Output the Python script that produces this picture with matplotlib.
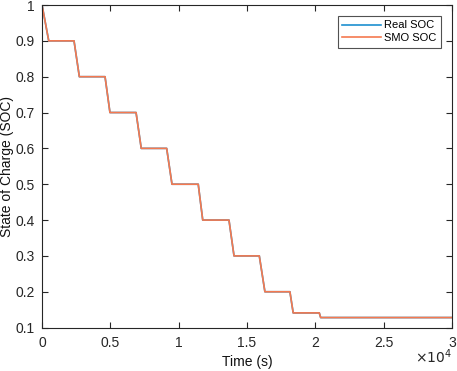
import matplotlib
matplotlib.use("Agg")
import matplotlib.pyplot as plt

# breakpoints of the SOC staircase (time in s)
time_s = [0, 490, 2340, 2730, 4610, 4970, 6880, 7260, 9120, 9510, 11430, 11760,
          13680, 14050, 15900, 16310, 18140, 18380, 20290, 20390, 30000]
real_soc = [1.0, 0.9, 0.9, 0.8, 0.8, 0.7, 0.7, 0.6, 0.6, 0.5, 0.5, 0.4,
            0.4, 0.3, 0.3, 0.2, 0.2, 0.141, 0.141, 0.128, 0.128]
smo_soc = [1.0, 0.9, 0.9, 0.8, 0.8, 0.7, 0.7, 0.6, 0.6, 0.5, 0.5, 0.4,
           0.4, 0.3, 0.3, 0.2, 0.2, 0.141, 0.141, 0.128, 0.128]

xticks = [0, 5000, 10000, 15000, 20000, 25000, 30000]
xlabels = ["0", "0.5", "1", "1.5", "2", "2.5", "3"]
yticks = [0.1, 0.2, 0.3, 0.4, 0.5, 0.6, 0.7, 0.8, 0.9, 1.0]
ylabels = ["0.1", "0.2", "0.3", "0.4", "0.5", "0.6", "0.7", "0.8", "0.9", "1"]

plt.rcParams["font.family"] = ["Liberation Sans", "DejaVu Sans"]
axcol = "#262626"

fig = plt.figure(figsize=(4.57, 3.71), dpi=100)
ax = fig.add_axes([0.092, 0.117, 0.897, 0.8695])

ax.plot(time_s, real_soc, color="#1E90D0", lw=1.2, label="Real SOC")
ax.plot(time_s, smo_soc, color="#F5794F", lw=1.2, label="SMO SOC")

ax.set_xlim(0, 30000)
ax.set_ylim(0.1, 1.0)
ax.set_xticks(xticks)
ax.set_xticklabels(xlabels)
ax.set_yticks(yticks)
ax.set_yticklabels(ylabels)
ax.tick_params(direction="in", length=4, width=0.8, colors=axcol, labelsize=10,
               top=True, right=True, pad=5)
ax.tick_params(axis="x", pad=6)
for s in ax.spines.values():
    s.set_color(axcol)
    s.set_linewidth(0.8)

ax.set_xlabel("Time (s)", fontsize=10, color="#111111", labelpad=4)
ax.set_ylabel("State of Charge (SOC)", fontsize=10, color="#111111")
ax.yaxis.set_label_coords(-0.068, 0.5)
ax.text(1.0, -0.062, r"$\times10^4$", transform=ax.transAxes, ha="right", va="top",
        fontsize=10, color=axcol)

leg = ax.legend(loc="upper right", fontsize=8, handlelength=3.5, borderpad=0.4,
                labelspacing=0.25, handletextpad=0.25, fancybox=False,
                bbox_to_anchor=(0.973, 0.966), borderaxespad=0)
leg.get_frame().set_edgecolor(axcol)
leg.get_frame().set_linewidth(0.8)

fig.savefig("out.png", dpi=100)
